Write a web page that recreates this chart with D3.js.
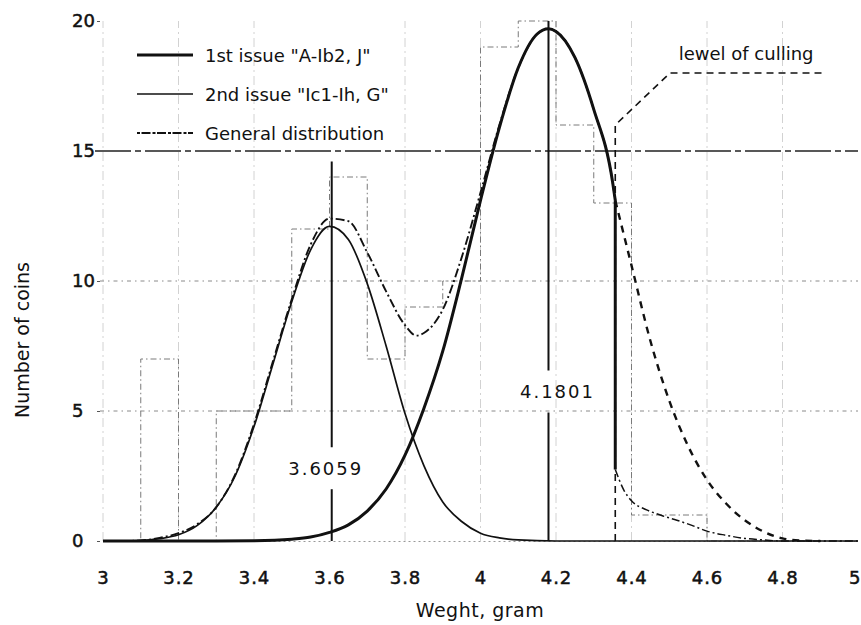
<!DOCTYPE html>
<html><head><meta charset="utf-8">
<script src="https://cdn.jsdelivr.net/npm/d3@7"></script>
<style>html,body{margin:0;padding:0;background:#fff}svg{display:block}</style>
</head><body><svg id="c" width="861" height="625"></svg>
<script>
// ---------- data ----------
const xTicks = [3, 3.2, 3.4, 3.6, 3.8, 4, 4.2, 4.4, 4.6, 4.8, 5];
const xTickLabels = ["3", "3.2", "3.4", "3.6", "3.8", "4", "4.2", "4.4", "4.6", "4.8", "5"];
const yTicks = [0, 5, 10, 15, 20];
const yTickLabels = ["0", "5", "10", "15", "20"];
const xGrid = [3, 3.2, 3.4, 3.8, 4, 4.2, 4.4, 4.6, 4.8];
const yGridLight = [5, 10];
const yGridDark = [15];

// histogram of observed coins (0.1 g bins)
const binStarts = [3.0, 3.1, 3.2, 3.3, 3.4, 3.5, 3.6, 3.7, 3.8, 3.9, 4.0, 4.1, 4.2, 4.3, 4.4, 4.5, 4.6, 4.7];
const binCounts = [0, 7, 0, 5, 5, 12, 14, 7, 9, 10, 19, 20, 16, 13, 1, 1, 0, 0];
const binWidth = 0.1;

// 2nd issue "Ic1-Ih, G" (thin solid)
const issue2X = [3.00, 3.10, 3.15, 3.20, 3.25, 3.30, 3.35, 3.40, 3.45, 3.50, 3.55, 3.60, 3.65, 3.70, 3.75, 3.80, 3.85, 3.90, 3.95, 4.00, 4.05, 4.10, 4.20, 4.40, 4.60, 4.80, 5.00];
const issue2Y = [0, 0.02, 0.09, 0.24, 0.6, 1.3, 2.5, 4.4, 6.8, 9.2, 11.2, 12.1, 11.6, 9.9, 7.5, 4.9, 2.9, 1.5, 0.75, 0.3, 0.12, 0.04, 0, 0, 0, 0, 0];

// 1st issue "A-Ib2, J" (thick solid), up to the culling level
const issue1X = [3.00, 3.30, 3.40, 3.50, 3.55, 3.60, 3.65, 3.70, 3.75, 3.80, 3.85, 3.90, 3.95, 4.00, 4.05, 4.10, 4.15, 4.18, 4.20, 4.25, 4.30, 4.35, 4.357];
const issue1Y = [0, 0, 0.01, 0.07, 0.15, 0.33, 0.62, 1.15, 2.0, 3.3, 5.1, 7.3, 10.1, 13.1, 15.9, 18.2, 19.5, 19.7, 19.6, 18.6, 16.6, 13.8, 13.1];
// 1st issue beyond the culling level (dashed)
const issue1TailX = [4.357, 4.40, 4.45, 4.50, 4.55, 4.60, 4.65, 4.70, 4.75, 4.80, 4.85, 4.90];
const issue1TailY = [13.1, 10.6, 7.7, 5.4, 3.65, 2.35, 1.45, 0.8, 0.36, 0.1, 0.02, 0];

// general distribution (dash-dot)
const generalX = [3.00, 3.05, 3.10, 3.15, 3.20, 3.25, 3.30, 3.35, 3.40, 3.45, 3.50, 3.55, 3.60, 3.65, 3.70, 3.75, 3.80, 3.83, 3.85, 3.90, 3.95, 4.00, 4.05, 4.10, 4.15, 4.18, 4.20, 4.25, 4.30, 4.35, 4.357];
const generalY = [0, 0, 0.02, 0.12, 0.3, 0.65, 1.3, 2.55, 4.5, 6.9, 9.3, 11.4, 12.4, 12.3, 11.1, 9.6, 8.3, 7.9, 8.0, 8.9, 10.9, 13.4, 16.0, 18.2, 19.5, 19.7, 19.6, 18.6, 16.6, 13.8, 13.1];
const generalTailX = [4.357, 4.38, 4.40, 4.44, 4.48, 4.52, 4.56, 4.60, 4.65, 4.70, 4.75, 4.80, 4.90, 5.00];
const generalTailY = [2.75, 1.95, 1.55, 1.2, 0.98, 0.8, 0.6, 0.38, 0.22, 0.1, 0.04, 0, 0, 0];

const means = [3.6059, 4.1801];
const meanLabels = ["3.6059", "4.1801"];
const meanTops = [14.6, 20];
const meanLabelLevels = [2.8, 5.75];

const cullingLevel = 4.357;
const cullingCalloutX = [4.357, 4.357, 4.502, 4.907];
const cullingCalloutY = [0, 16, 18, 18];
const cullingText = "lewel of culling";

const legendNames = ['1st issue "A-Ib2, J"', '2nd issue "Ic1-Ih, G"', 'General distribution'];
const xTitle = "Weght, gram";
const yTitle = "Number of coins";

// ---------- drawing ----------
const svg = d3.select("#c");
const x = d3.scaleLinear().domain([3, 5]).range([103, 858]);
const y = d3.scaleLinear().domain([0, 20]).range([541, 21]);
const font = "'DejaVu Sans', Verdana, sans-serif";
const ink = "#111";

// grid
svg.append("g").selectAll("line").data(xGrid).join("line")
  .attr("x1", d => x(d)).attr("x2", d => x(d)).attr("y1", y(0)).attr("y2", y(20))
  .attr("stroke", "#d2d2d2").attr("stroke-width", 1).attr("stroke-dasharray", "9,4,2,4");
svg.append("g").selectAll("line").data(yGridLight).join("line")
  .attr("x1", 100).attr("x2", 858).attr("y1", d => y(d)).attr("y2", d => y(d))
  .attr("stroke", "#8a8a8a").attr("stroke-width", 1).attr("stroke-dasharray", "4,4,1.5,4");
svg.append("g").selectAll("line").data(yGridDark).join("line")
  .attr("x1", 95).attr("x2", 858).attr("y1", d => y(d)).attr("y2", d => y(d))
  .attr("stroke", "#222").attr("stroke-width", 1.3).attr("stroke-dasharray", "36,4,6,4");

// histogram outline (step)
const stepPts = [];
binStarts.forEach((s, i) => { stepPts.push([s, binCounts[i]]); stepPts.push([s + binWidth, binCounts[i]]); });
stepPts.unshift([binStarts[0], 0]);
stepPts.push([binStarts[binStarts.length - 1] + binWidth, 0]);
svg.append("path")
  .attr("d", d3.line().x(d => x(d[0])).y(d => y(d[1]))(stepPts))
  .attr("fill", "none").attr("stroke", "#7a7a7a").attr("stroke-width", 1)
  .attr("stroke-dasharray", "6,3,1.5,3");

// axes
const xAxis = d3.axisBottom(x).tickValues(xTicks).tickFormat((d, i) => xTickLabels[i]).tickSize(0).tickPadding(30);
const gx = svg.append("g").attr("transform", `translate(0,${y(0)})`).call(xAxis);
gx.select(".domain").attr("stroke", "#999").attr("stroke-dasharray", "2,3");
gx.selectAll("text").attr("font-family", font).attr("font-size", 18).attr("fill", ink)
  .attr("stroke", ink).attr("stroke-width", 0.5).attr("letter-spacing", 1);
// keep the last label inside the picture edge
gx.selectAll(".tick").filter(d => d === xTicks[xTicks.length - 1]).select("text")
  .attr("text-anchor", "end").attr("x", 3);

const yAxis = d3.axisLeft(y).tickValues(yTicks).tickFormat((d, i) => yTickLabels[i]).tickSize(3).tickPadding(0);
const gy = svg.append("g").attr("transform", `translate(100,0)`).call(yAxis);
gy.select(".domain").remove();
gy.selectAll(".tick line").attr("stroke", "#555");
gy.selectAll("text").attr("font-family", font).attr("font-size", 18).attr("fill", ink)
  .attr("stroke", ink).attr("stroke-width", 0.5)
  .attr("text-anchor", "start").attr("x", -28);

// curves
const lineXY = (xs, ys, curve) => d3.line().curve(curve || d3.curveMonotoneX)
  .x((d, i) => x(xs[i])).y((d, i) => y(ys[i]))(xs);

svg.append("path").attr("d", lineXY(generalX, generalY)).attr("fill", "none")
  .attr("stroke", ink).attr("stroke-width", 1.9).attr("stroke-dasharray", "9,3,2,3");
svg.append("path").attr("d", lineXY(generalTailX, generalTailY)).attr("fill", "none")
  .attr("stroke", ink).attr("stroke-width", 1.5).attr("stroke-dasharray", "8,3,2,3");
svg.append("path").attr("d", lineXY(issue2X, issue2Y)).attr("fill", "none")
  .attr("stroke", ink).attr("stroke-width", 1.7);
svg.append("path").attr("d", lineXY(issue1X, issue1Y)).attr("fill", "none")
  .attr("stroke", ink).attr("stroke-width", 3);
// drop of the 1st issue at the culling level
svg.append("path").attr("d", d3.line()([[x(cullingLevel), y(issue1Y[issue1Y.length - 1])], [x(cullingLevel), y(generalTailY[0])]]))
  .attr("stroke", ink).attr("stroke-width", 3);
svg.append("path").attr("d", lineXY(issue1TailX, issue1TailY)).attr("fill", "none")
  .attr("stroke", ink).attr("stroke-width", 2.4).attr("stroke-dasharray", "7,6");

// culling callout
svg.append("path").attr("d", lineXY(cullingCalloutX, cullingCalloutY, d3.curveLinear)).attr("fill", "none")
  .attr("stroke", ink).attr("stroke-width", 1.6).attr("stroke-dasharray", "7,5");
svg.append("text").attr("x", x(4.525)).attr("y", y(18) - 13).text(cullingText)
  .attr("font-family", font).attr("font-size", 18).attr("fill", ink);

// mean lines with labels
means.forEach((m, i) => {
  const lx = x(m), ly = y(meanLabelLevels[i]);
  svg.append("text").attr("x", lx + (i === 0 ? -6 : 9)).attr("y", ly).attr("dy", "0.36em")
    .attr("text-anchor", "middle").attr("font-family", font).attr("font-size", 18)
    .attr("letter-spacing", 2).attr("fill", ink).text(meanLabels[i]);
  const gapTop = ly - 21, gapBot = ly + 21;
  svg.append("line").attr("x1", lx).attr("x2", lx).attr("y1", y(0)).attr("y2", gapBot)
    .attr("stroke", ink).attr("stroke-width", 2);
  svg.append("line").attr("x1", lx).attr("x2", lx).attr("y1", gapTop).attr("y2", y(meanTops[i]))
    .attr("stroke", ink).attr("stroke-width", 2);
});

// legend
const legStyles = [
  { w: 3, dash: null },
  { w: 1.6, dash: null },
  { w: 1.9, dash: "3,1.5,9,2" }
];
const leg = svg.append("g");
legendNames.forEach((n, i) => {
  const ly = 55 + i * 39;
  const l = leg.append("line").attr("x1", 137).attr("x2", 193).attr("y1", ly).attr("y2", ly)
    .attr("stroke", ink).attr("stroke-width", legStyles[i].w);
  if (legStyles[i].dash) l.attr("stroke-dasharray", legStyles[i].dash);
  leg.append("text").attr("x", 205).attr("y", ly + 7).text(n)
    .attr("font-family", font).attr("font-size", 18).attr("fill", ink);
});

// axis titles
svg.append("text").attr("x", 480).attr("y", 617).attr("text-anchor", "middle").text(xTitle)
  .attr("font-family", font).attr("font-size", 19).attr("letter-spacing", 0.5).attr("fill", ink);
svg.append("text").attr("transform", "translate(29,340) rotate(-90)").attr("text-anchor", "middle").text(yTitle)
  .attr("font-family", font).attr("font-size", 19).attr("fill", ink);
</script></body></html>
